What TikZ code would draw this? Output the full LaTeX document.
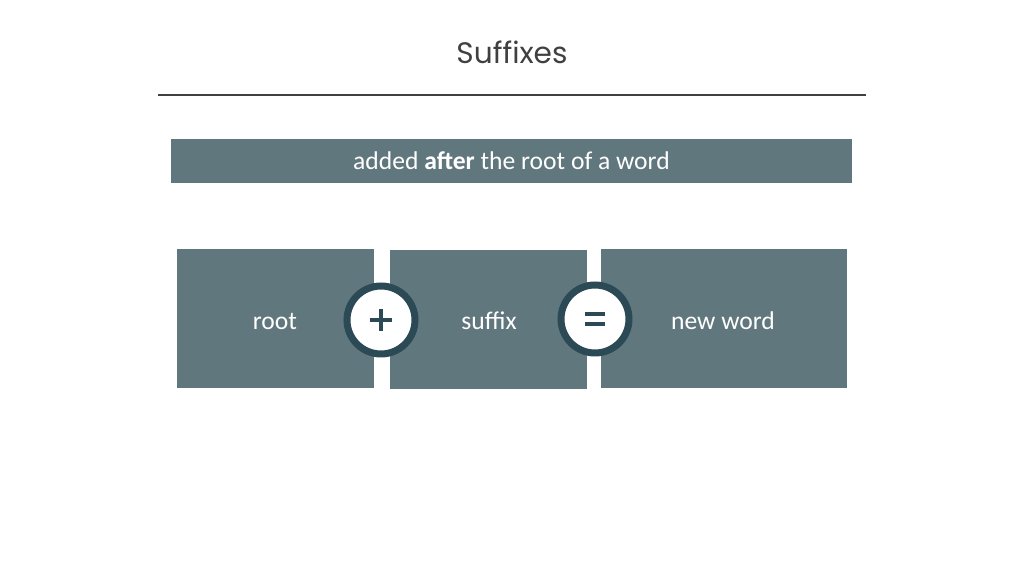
\documentclass[tikz,border=0pt]{standalone}
\usepackage{fontspec}
\setmainfont{Carlito}
\newfontfamily\titlefont{Poppins}
\usepackage{tikz}
\usetikzlibrary{positioning}

\definecolor{slate}{HTML}{61777E}
\definecolor{ringcol}{HTML}{2C4A56}
\definecolor{titlecol}{HTML}{404040}

\tikzset{
    part/.style={fill=slate, inner sep=0pt, minimum height=69.5pt},
    label/.style={text=white, inner sep=0pt, font=\fontsize{12.8}{15}\selectfont},
    sign/.style={circle, draw=ringcol, line width=3.5pt, fill=white, minimum size=34pt, inner sep=0pt}
}

\begin{document}
\begin{tikzpicture}[x=0.5pt, y=-0.5pt]
        \useasboundingbox (0, 0) rectangle (1024, 576);

        \node [text=titlecol, font=\titlefont\fontsize{14.8}{17}\selectfont] (title) at (512, 52) {Suffixes};
        \coordinate (L1) at (158, 95);
        \coordinate (L2) at (866, 95);
        \draw [line width=0.55pt, titlecol] (L1) -- (L2);

        \node [part, label, minimum width=340.5pt, minimum height=22pt] (banner) at (511.5, 161) {added \textbf{after} the root of a word};

        \node [part, minimum width=98.5pt] (root) at (275.5, 318.5) {};
        \node [part, minimum width=98.5pt] (suffix) at (488.5, 319.5) {};
        \node [part, minimum width=123pt] (word) at (724, 318.5) {};
        \node [label] (roottxt) at (275, 322) {root};
        \node [label] (suffixtxt) at (489, 321) {suffix};
        \node [label] (wordtxt) at (723, 321) {new word};

        \node [sign] (plus) at (381, 320) {};
        \node [sign] (equals) at (595, 319) {};

        % symbols inside the rings
        \draw [ringcol, line width=2.3pt] ([xshift=-5.5pt]plus.center) -- ([xshift=5.5pt]plus.center);
        \draw [ringcol, line width=2.3pt] ([yshift=-5.5pt]plus.center) -- ([yshift=5.5pt]plus.center);
        \draw [ringcol, line width=1.8pt] ([xshift=-5pt, yshift=2.5pt]equals.center) -- ([xshift=5pt, yshift=2.5pt]equals.center);
        \draw [ringcol, line width=1.8pt] ([xshift=-5pt, yshift=-2.5pt]equals.center) -- ([xshift=5pt, yshift=-2.5pt]equals.center);
\end{tikzpicture}
\end{document}
